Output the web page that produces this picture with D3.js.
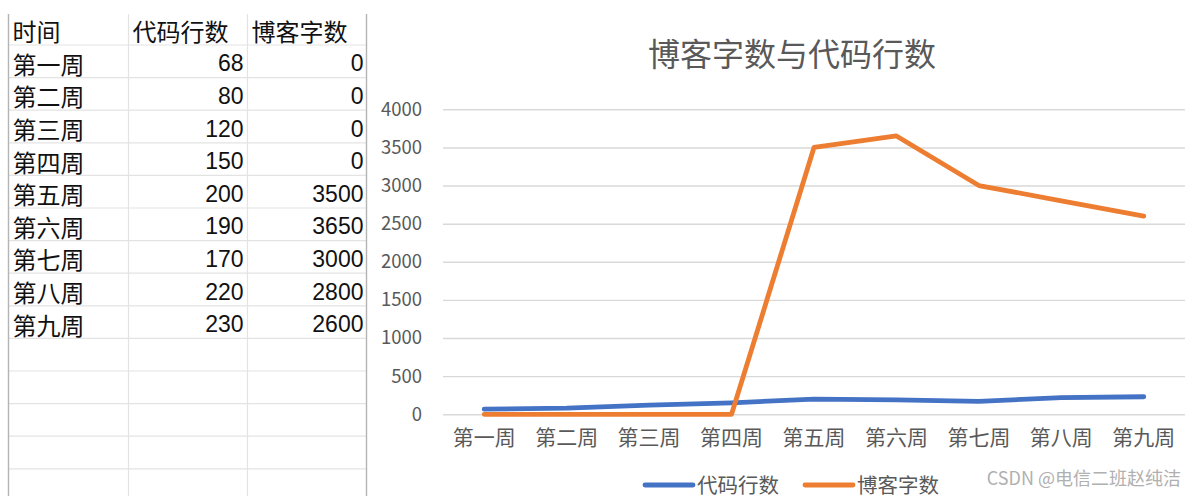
<!DOCTYPE html>
<html><head><meta charset="utf-8">
<script src="https://cdn.jsdelivr.net/npm/d3@7"></script>
<style>body{margin:0;background:#fff;}svg{display:block;}</style>
</head><body><svg id="c" width="1196" height="496"></svg>
<script>
const weeks = ["第一周","第二周","第三周","第四周","第五周","第六周","第七周","第八周","第九周"];
const codeLines = [68,80,120,150,200,190,170,220,230];
const blogWords = [0,0,0,0,3500,3650,3000,2800,2600];
const headers = ["时间","代码行数","博客字数"];
const seriesNames = ["代码行数","博客字数"];
const yTicks = [0,500,1000,1500,2000,2500,3000,3500,4000];
const title = "博客字数与代码行数";
const watermark = "CSDN @电信二班赵纯洁";
const colors = ["#4472C4","#ED7D31"];

const svg = d3.select("#c");
const CJK = "'Noto Sans CJK SC', sans-serif";
const NUM = "'Liberation Sans', 'Noto Sans CJK SC', sans-serif";

// ---------- spreadsheet table ----------
const colEdges = [8.5, 128.5, 247.5, 366.5];
const tableTop = 14, headerBottom = 45, rowH = 32.6;
const tbl = svg.append("g");
const nRows = 14;
const rowScale = d3.scaleLinear().domain([0,1]).range([headerBottom, headerBottom+rowH]);
for (let i = 0; i < nRows; i++) {
  tbl.append("line").attr("x1", colEdges[0]).attr("x2", colEdges[3])
    .attr("y1", rowScale(i)).attr("y2", rowScale(i))
    .attr("stroke", "#e3e3e3").attr("stroke-width", 1.2);
}
[1,2].forEach(k => tbl.append("line").attr("x1", colEdges[k]).attr("x2", colEdges[k])
  .attr("y1", tableTop).attr("y2", 496).attr("stroke", "#e3e3e3").attr("stroke-width", 1.2));
[0,3].forEach(k => tbl.append("line").attr("x1", colEdges[k]).attr("x2", colEdges[k])
  .attr("y1", tableTop).attr("y2", 496).attr("stroke", "#b4b4b4").attr("stroke-width", 1.4));

const fsC = 24, fsN = 23;
headers.forEach((h, k) => tbl.append("text").attr("x", colEdges[k] + 4)
  .attr("y", (tableTop + headerBottom)/2 + 1).attr("dominant-baseline", "central")
  .attr("font-family", CJK).attr("font-size", fsC).attr("fill", "#111").text(h));
weeks.forEach((w, i) => {
  const cy = rowScale(i) + rowH/2 + 2;
  tbl.append("text").attr("x", colEdges[0] + 4).attr("y", cy).attr("dominant-baseline","central")
    .attr("font-family", CJK).attr("font-size", fsC).attr("fill", "#111").text(w);
  tbl.append("text").attr("x", colEdges[2] - 4).attr("y", cy).attr("dominant-baseline","central")
    .attr("text-anchor","end").attr("font-family", NUM).attr("font-size", fsN).attr("fill", "#111").text(codeLines[i]);
  tbl.append("text").attr("x", colEdges[3] - 3).attr("y", cy).attr("dominant-baseline","central")
    .attr("text-anchor","end").attr("font-family", NUM).attr("font-size", fsN).attr("fill", "#111").text(blogWords[i]);
});

// ---------- chart ----------
const plotL = 443, plotR = 1185, plotT = 109.3, plotB = 414.3;
const x = d3.scaleBand().domain(weeks).range([plotL, plotR]);
const y = d3.scaleLinear().domain([0, 4000]).range([plotB, plotT]);

svg.append("text").attr("x", 792).attr("y", 52).attr("text-anchor","middle")
  .attr("dominant-baseline","central").attr("font-family", CJK).attr("font-size", 32)
  .attr("fill", "#595959").text(title);

const yAxis = svg.append("g").attr("transform", `translate(${plotL},0)`)
  .call(d3.axisLeft(y).tickValues(yTicks).tickSize(-(plotR - plotL)).tickPadding(21).tickFormat(d3.format("d")));
yAxis.select(".domain").remove();
yAxis.selectAll("line").attr("stroke", "#d9d9d9").attr("stroke-width", 1.4);
yAxis.selectAll("text").attr("font-family", CJK).attr("font-size", 18.5).attr("fill", "#595959");

const xAxis = svg.append("g").attr("transform", `translate(0,${plotB})`)
  .call(d3.axisBottom(x).tickSize(0).tickPadding(16));
xAxis.select(".domain").remove();
xAxis.selectAll("text").attr("font-family", CJK).attr("font-size", 21).attr("fill", "#595959");

const line = d3.line().x((d, i) => x(weeks[i]) + x.bandwidth()/2).y(d => y(d));
[codeLines, blogWords].forEach((s, k) => svg.append("path").datum(s).attr("d", line)
  .attr("fill","none").attr("stroke", colors[k]).attr("stroke-width", 4.8)
  .attr("stroke-linejoin","round").attr("stroke-linecap","round"));

// legend
const legendY = 485;
const legendX = [645, 805];
seriesNames.forEach((n, k) => {
  svg.append("line").attr("x1", legendX[k]).attr("x2", legendX[k] + 48)
    .attr("y1", legendY).attr("y2", legendY).attr("stroke", colors[k]).attr("stroke-width", 4.8)
    .attr("stroke-linecap","round");
  svg.append("text").attr("x", legendX[k] + 52).attr("y", legendY - 1).attr("dominant-baseline","central")
    .attr("font-family", CJK).attr("font-size", 20.5).attr("fill", "#595959").text(n);
});

svg.append("text").attr("x", 1181).attr("y", 477).attr("text-anchor","end").attr("dominant-baseline","central")
  .attr("font-family", CJK).attr("font-size", 18).attr("fill", "#b0b0b0").text(watermark);
</script></body></html>
